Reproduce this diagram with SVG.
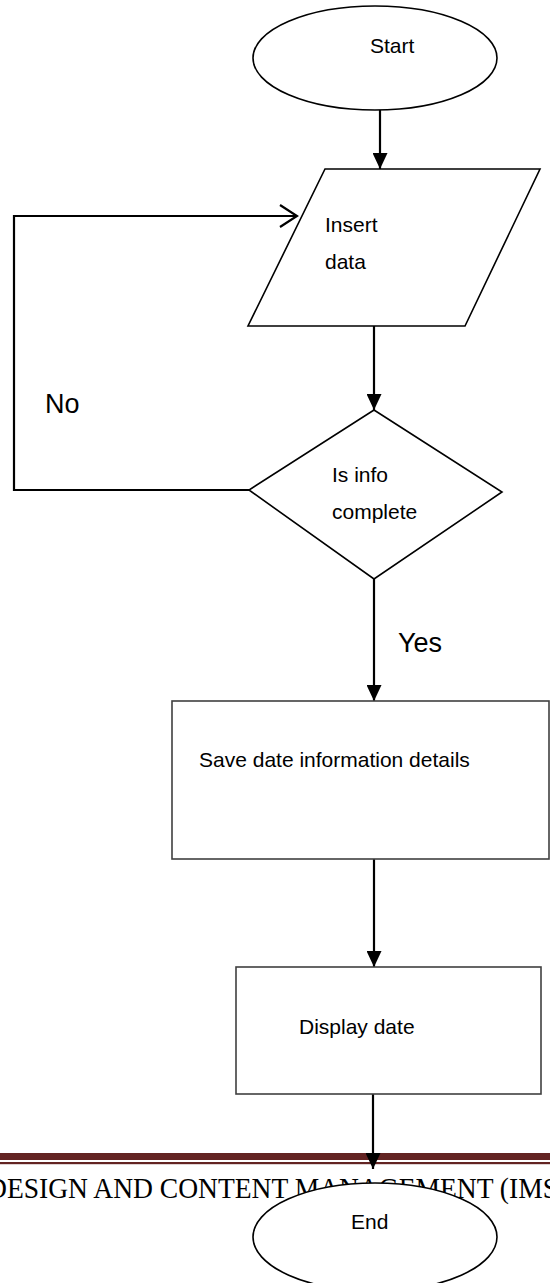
<svg xmlns="http://www.w3.org/2000/svg" width="550" height="1283" viewBox="0 0 550 1283">
<style>
.shape{fill:#fff;stroke:#000;stroke-width:1.6}
.box{fill:#fff;stroke:#404040;stroke-width:1.6}
.lbl{font-family:"Liberation Sans",Arial,sans-serif;font-size:21px;fill:#000}
.big{font-family:"Liberation Sans",Arial,sans-serif;font-size:27px;fill:#000}
.conn{fill:none;stroke:#000;stroke-width:2.2}
.foot{font-family:"Liberation Serif","Times New Roman",serif;font-size:30px;fill:#000}
</style>
<defs>
<marker id="ah" viewBox="0 0 16 15" refX="16" refY="7.5" markerWidth="16" markerHeight="15" markerUnits="userSpaceOnUse" orient="auto">
<path d="M0,0 L16,7.5 L0,15 z" fill="#000"/>
</marker>
<marker id="open" viewBox="0 0 20 24" refX="18" refY="12" markerWidth="20" markerHeight="24" markerUnits="userSpaceOnUse" orient="auto">
<path d="M1,1 L18,12 L1,23" fill="none" stroke="#000" stroke-width="2.2"/>
</marker>
</defs>
<rect width="550" height="1283" fill="#fff"/>
<g id="footer">
<rect x="0" y="1153" width="550" height="7" fill="#632423"/>
<rect x="0" y="1162" width="550" height="2.2" fill="#632423"/>
<text class="foot" x="-13" y="1198" textLength="571" lengthAdjust="spacingAndGlyphs">DESIGN AND CONTENT MANAGEMENT (IMS</text>
</g>
<g id="connectors">
<line class="conn" x1="380" y1="110" x2="380" y2="169" marker-end="url(#ah)"/>
<line class="conn" x1="374" y1="326" x2="374" y2="410" marker-end="url(#ah)"/>
<polyline class="conn" points="249,490 14,490 14,216 297,216" marker-end="url(#open)"/>
<line class="conn" x1="374" y1="579" x2="374" y2="701" marker-end="url(#ah)"/>
<line class="conn" x1="374" y1="859" x2="374" y2="967" marker-end="url(#ah)"/>
<line class="conn" x1="373" y1="1094" x2="373" y2="1169" marker-end="url(#ah)"/>
<text class="big" x="45" y="413">No</text>
<text class="big" x="398" y="652">Yes</text>
</g>
<g id="start">
<ellipse class="shape" cx="375" cy="58" rx="122" ry="52"/>
<text class="lbl" x="370" y="53">Start</text>
</g>
<g id="insert">
<polygon class="shape" points="325,169 540,169 465,326 248,326"/>
<text class="lbl" x="325" y="232">Insert</text>
<text class="lbl" x="325" y="269">data</text>
</g>
<g id="decision">
<polygon class="shape" points="374,410 502,492 374,579 249,490"/>
<text class="lbl" x="332" y="482">Is info</text>
<text class="lbl" x="332" y="519">complete</text>
</g>
<g id="save">
<rect class="box" x="172" y="701" width="377" height="158"/>
<text class="lbl" x="199" y="767">Save date information details</text>
</g>
<g id="display">
<rect class="box" x="236" y="967" width="305" height="127"/>
<text class="lbl" x="299" y="1034">Display date</text>
</g>
<g id="end">
<ellipse class="shape" cx="375" cy="1237" rx="122" ry="54"/>
<text class="lbl" x="351" y="1229">End</text>
</g>
</svg>
